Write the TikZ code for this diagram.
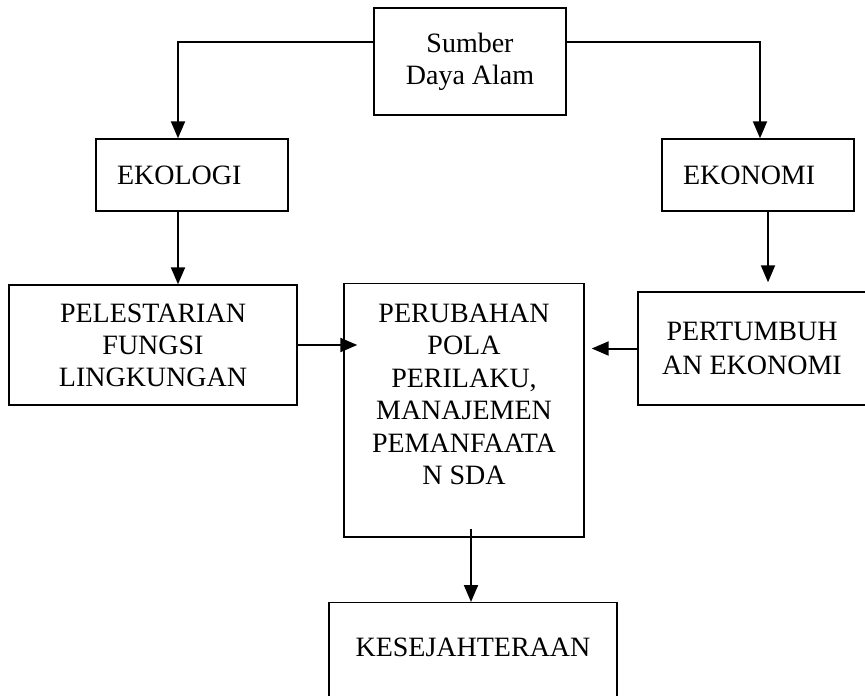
\documentclass[tikz,border=0pt]{standalone}
\usepackage{fontspec}
\setmainfont{Liberation Serif}
\usetikzlibrary{arrows.meta}
\tikzset{
	kotak/.style={draw, line width=0.7pt, align=center, font=\fontsize{14}{16}\selectfont},
	panah/.style={line width=1pt, -{Triangle[length=8.5pt,width=7pt]}}
}

\begin{document}
\begin{tikzpicture}[x=0.5pt,y=-0.5pt]
		\path[use as bounding box] (0,0) rectangle (865,695);
		\clip (0,0) rectangle (865,695);
		\node[kotak, minimum width=96pt, minimum height=53.5pt] (sda) at (470,61.5) {Sumber\\Daya Alam};
		\node[kotak, align=left, text width=75pt, inner xsep=10.5pt, minimum height=36pt] (ekologi) at (192,175) {EKOLOGI};
		\node[kotak, align=left, text width=75pt, inner xsep=10.5pt, minimum height=36pt] (ekonomi) at (758,175) {EKONOMI};
		\node[kotak, minimum width=144pt, minimum height=60pt] (pelestarian) at (153,345) {PELESTARIAN\\FUNGSI\\LINGKUNGAN};
		\node[kotak, anchor=north, minimum width=120pt, inner ysep=10pt, text depth=16.25pt, font=\fontsize{14}{16.25}\selectfont] (perubahan) at (464,283) {PERUBAHAN\\POLA\\PERILAKU,\\MANAJEMEN\\PEMANFAATA\\N SDA};
		\node[kotak, minimum width=114pt, minimum height=56.5pt, font=\fontsize{14}{17}\selectfont] (pertumbuhan) at (752,348.5) {PERTUMBUH\\AN EKONOMI};
		\node[kotak, anchor=north, minimum width=144pt, inner ysep=17.5pt, text depth=10pt] (sejahtera) at (473,602) {KESEJAHTERAAN};

		\coordinate (kiri) at (178,42);
		\coordinate (kanan) at (760,42);
		\coordinate (ekon-bawah) at ([xshift=5pt]ekonomi.south);
		\coordinate (ubah-bawah) at ([xshift=3.5pt]perubahan.south);

		\draw[panah] (sda.west |- kiri) -- (kiri) -- (kiri |- ekologi.north);
		\draw[panah] (sda.east |- kanan) -- (kanan) -- (kanan |- ekonomi.north);
		\draw[panah] (kiri |- ekologi.south) -- (kiri |- pelestarian.north);
		\draw[panah, shorten >=4.5pt] (ekon-bawah) -- (ekon-bawah |- pertumbuhan.north);
		\draw[panah, shorten >=-7pt] (pelestarian.east) -- (pelestarian.east -| perubahan.west);
		\draw[panah, shorten >=3.5pt] (pertumbuhan.west) -- (pertumbuhan.west -| perubahan.east);
		\draw[panah, shorten <=-4.5pt] (ubah-bawah) -- (ubah-bawah |- sejahtera.north);
\end{tikzpicture}
\end{document}
